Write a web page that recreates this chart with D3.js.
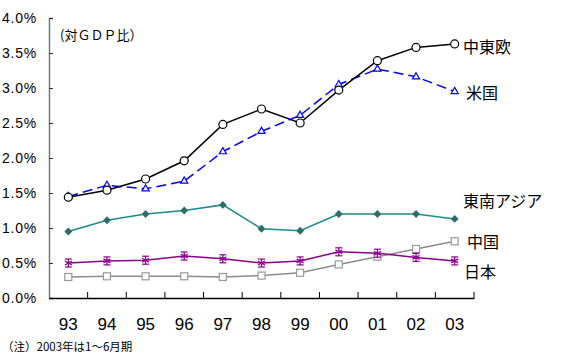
<!DOCTYPE html>
<html><head><meta charset="utf-8">
<script src="https://cdn.jsdelivr.net/npm/d3@7"></script>
<style>body{margin:0;background:#fff}svg{display:block}text{font-family:"Liberation Sans",Arial,sans-serif}</style>
</head><body>
<script>
const years = ["93","94","95","96","97","98","99","00","01","02","03"];
const yTicks = [0,0.5,1,1.5,2,2.5,3,3.5,4];
const cee   = [1.44,1.54,1.70,1.96,2.48,2.70,2.50,2.97,3.39,3.58,3.63];
const usa   = [1.45,1.61,1.56,1.67,2.09,2.38,2.61,3.05,3.27,3.16,2.95];
const sea   = [0.95,1.11,1.20,1.25,1.33,0.99,0.96,1.20,1.20,1.20,1.13];
const japan = [0.50,0.53,0.54,0.60,0.56,0.50,0.53,0.66,0.64,0.58,0.53];
const china = [0.30,0.31,0.31,0.31,0.30,0.32,0.36,0.48,0.59,0.70,0.81];
const names = ["中東欧","米国","東南アジア","中国","日本"];

const W=562,H=354;
const svg=d3.select("body").append("svg").attr("width",W).attr("height",H);
const x=d3.scaleBand().domain(years).range([49,474]);
const y=d3.scaleLinear().domain([0,4]).range([298,18]);
const cx=d=>x(d)+x.bandwidth()/2;

// y axis
const ya=svg.append("g").attr("transform","translate(49,0)")
  .call(d3.axisLeft(y).tickValues(yTicks).tickSize(-4).tickPadding(12).tickFormat(d=>d3.format(".1f")(d)+"%"));
ya.select(".domain").attr("stroke","#777").attr("stroke-width",1.5);
ya.selectAll(".tick line").attr("stroke","#333");
ya.selectAll("text").attr("font-size",14).attr("fill","#000").attr("letter-spacing","0.8px");
// x axis
const xa=svg.append("g").attr("transform","translate(0,298)")
  .call(d3.axisBottom(x).tickSize(0).tickPadding(20));
xa.select(".domain").attr("stroke","#000").attr("stroke-width",1.5);
xa.selectAll("text").attr("font-size",17).attr("fill","#000");
xa.selectAll(".sep").data(years.slice(1).concat(["end"])).enter().append("line")
  .attr("x1",(d,i)=>49+(i+1)*x.bandwidth()).attr("x2",(d,i)=>49+(i+1)*x.bandwidth())
  .attr("y1",0).attr("y2",-6).attr("stroke","#000").attr("stroke-width",1);

const line=d3.line().x((d,i)=>cx(years[i])).y(d=>y(d));

// China
svg.append("path").attr("d",line(china)).attr("fill","none").attr("stroke","#8c8c8c").attr("stroke-width",1.5);
svg.selectAll(".sq").data(china).enter().append("rect")
  .attr("x",(d,i)=>cx(years[i])-3.5).attr("y",d=>y(d)-3.5).attr("width",7).attr("height",7)
  .attr("fill","#fff").attr("stroke","#999").attr("stroke-width",1.2);
// Japan
svg.append("path").attr("d",line(japan)).attr("fill","none").attr("stroke","#8b008b").attr("stroke-width",1.5);
const ast=d3.symbol().type(d3.symbolAsterisk).size(45);
svg.selectAll(".as").data(japan).enter().append("path")
  .attr("transform",(d,i)=>`translate(${cx(years[i])},${y(d)})`).attr("d",ast())
  .attr("fill","none").attr("stroke","#8b008b").attr("stroke-width",1.3);
svg.selectAll(".asb").data(japan).enter().append("line")
  .attr("x1",(d,i)=>cx(years[i])-3.5).attr("x2",(d,i)=>cx(years[i])+3.5)
  .attr("y1",d=>y(d)-4).attr("y2",d=>y(d)-4).attr("stroke","#8b008b").attr("stroke-width",1.2);
svg.selectAll(".asb2").data(japan).enter().append("line")
  .attr("x1",(d,i)=>cx(years[i])-3.5).attr("x2",(d,i)=>cx(years[i])+3.5)
  .attr("y1",d=>y(d)+4).attr("y2",d=>y(d)+4).attr("stroke","#8b008b").attr("stroke-width",1.2);
// SEA
svg.append("path").attr("d",line(sea)).attr("fill","none").attr("stroke","#1a8c8c").attr("stroke-width",1.5);
const dia=d3.symbol().type(d3.symbolDiamond2).size(40);
svg.selectAll(".di").data(sea).enter().append("path")
  .attr("transform",(d,i)=>`translate(${cx(years[i])},${y(d)})`).attr("d",dia())
  .attr("fill","#2e6e6a");
// USA
svg.append("path").attr("d",line(usa)).attr("fill","none").attr("stroke","#0000ff").attr("stroke-width",1.5).attr("stroke-dasharray","10,5");
const tri=d3.symbol().type(d3.symbolTriangle2).size(36);
svg.selectAll(".tr").data(usa).enter().append("path")
  .attr("transform",(d,i)=>`translate(${cx(years[i])},${y(d)})`).attr("d",tri())
  .attr("fill","#fff").attr("stroke","#0000ff").attr("stroke-width",1.2);
// CEE
svg.append("path").attr("d",line(cee)).attr("fill","none").attr("stroke","#000").attr("stroke-width",1.5);
svg.selectAll(".ci").data(cee).enter().append("circle")
  .attr("cx",(d,i)=>cx(years[i])).attr("cy",d=>y(d)).attr("r",4)
  .attr("fill","#fff").attr("stroke","#000").attr("stroke-width",1.2);

// labels
const lab=[[names[0],463,53],[names[1],466,99],[names[2],463,207],[names[3],467,248],[names[4],464,278]];
svg.selectAll(".lb").data(lab).enter().append("text")
  .attr("x",d=>d[1]).attr("y",d=>d[2]).text(d=>d[0])
  .attr("font-size",16).attr("fill","#000").style("font-family","'Noto Sans CJK JP',sans-serif");

svg.append("text").attr("x",60).attr("y",40).text("(対ＧＤＰ比）")
  .attr("font-size",13).style("font-family","'Noto Sans CJK JP',sans-serif");
svg.append("text").attr("x",2).attr("y",351).text("（注）2003年は1～6月期")
  .attr("font-size",11.5).style("font-family","'Noto Sans CJK JP',sans-serif");
</script>
</body></html>
